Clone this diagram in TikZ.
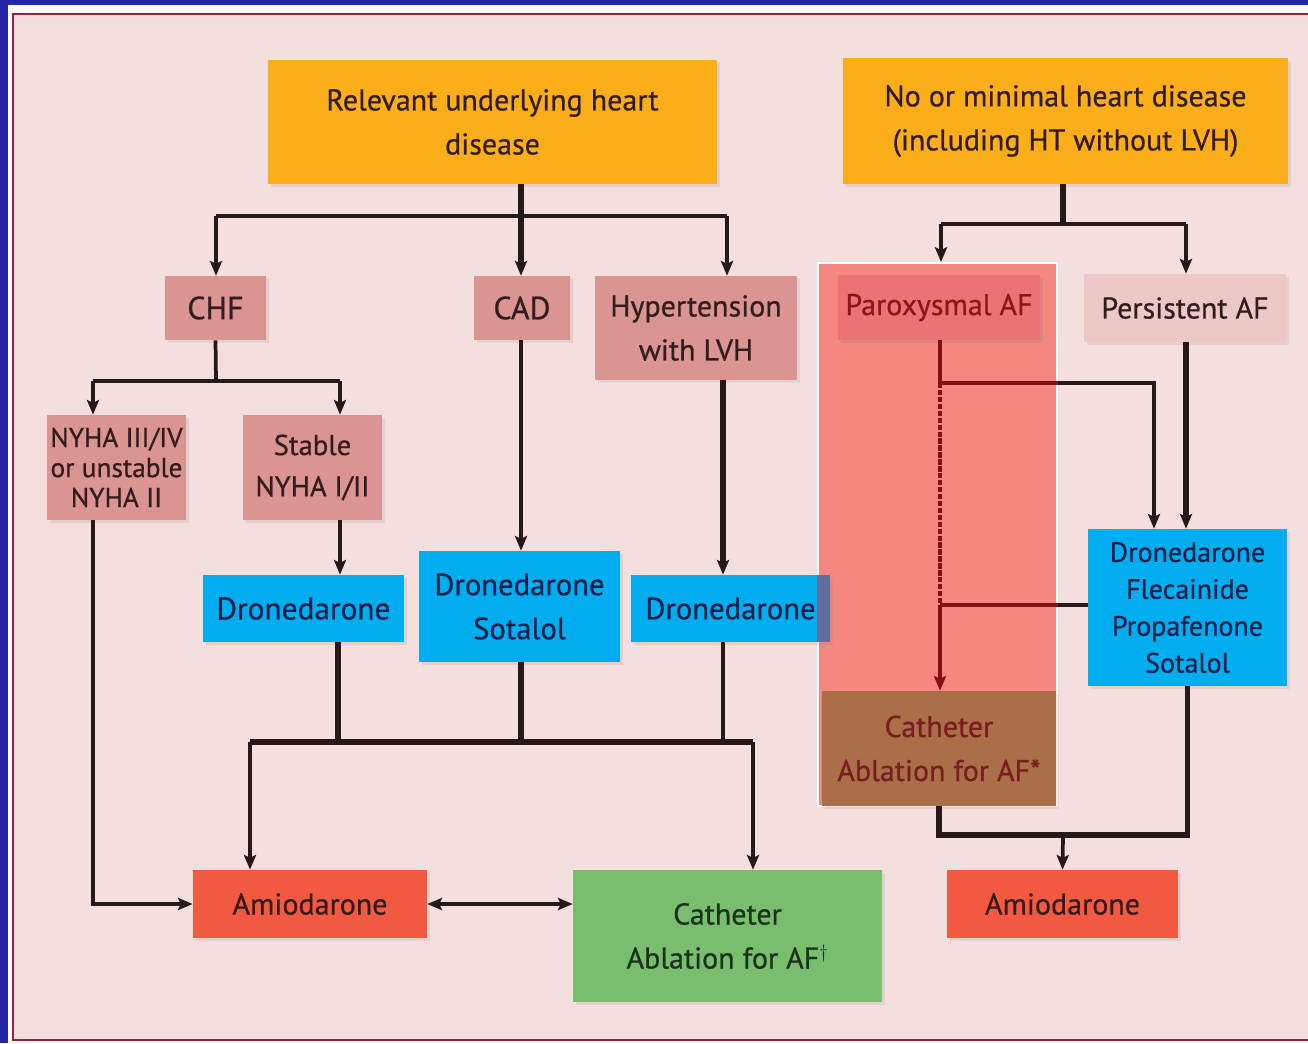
\documentclass[tikz,border=0pt]{standalone}
\usepackage{fontspec}
\setmainfont{PT Sans}[FakeBold=0.6]
\usetikzlibrary{arrows.meta,calc,shadows}
\definecolor{frameblue}{RGB}{38,38,168}
\definecolor{panel}{RGB}{245,223,222}
\definecolor{panelborder}{RGB}{150,35,60}
\definecolor{orangebox}{RGB}{251,174,26}
\definecolor{rosebox}{RGB}{218,148,146}
\definecolor{lightrose}{RGB}{236,200,198}
\definecolor{bluebox}{RGB}{0,173,238}
\definecolor{bluestrip}{RGB}{95,110,160}
\definecolor{amio}{RGB}{241,90,64}
\definecolor{greenbox}{RGB}{121,190,110}
\definecolor{hilite}{RGB}{245,134,128}
\definecolor{parbox}{RGB}{236,115,115}
\definecolor{brownbox}{RGB}{170,110,72}
\definecolor{txt}{RGB}{50,28,28}
\definecolor{bluetxt}{RGB}{20,30,75}
\definecolor{greentxt}{RGB}{25,50,25}
\definecolor{redtxt}{RGB}{140,20,30}
\definecolor{browntxt}{RGB}{120,30,30}
\definecolor{linec}{RGB}{40,25,25}
\definecolor{redline}{RGB}{130,15,20}
\tikzset{
  box/.style={inner sep=0pt, align=center, text=txt,
    font=\fontsize{22.5}{33}\selectfont,
    drop shadow={opacity=0.15, shadow xshift=2pt, shadow yshift=-2pt}},
  conn/.style={draw=linec, line width=2.8pt,
    -{Stealth[length=11pt,width=9pt,inset=2pt]}},
  dconn/.style={draw=linec, line width=2.8pt,
    {Stealth[length=11pt,width=9pt,inset=2pt]}-{Stealth[length=11pt,width=9pt,inset=2pt]}},
  bar/.style={draw=linec, line width=2.8pt},
  thickbar/.style={draw=linec, line width=4pt},
  thickconn/.style={conn, line width=4pt}
}
\begin{document}
\begin{tikzpicture}[x=0.75pt,y=-0.75pt]
\clip (0,0) rectangle (1308,1043);
\useasboundingbox (0,0) rectangle (1308,1043);
% frame
\fill[frameblue] (0,0) rectangle (1308,1043);
\fill[white] (8,5) rectangle (1320,1050);
\filldraw[fill=panel, draw=panelborder, line width=1.8pt] (13,14) rectangle (1330,1040);

% highlight region
\node[draw=white, fill=hilite, line width=1.5pt, inner sep=0pt, minimum width=179.25pt, minimum height=407.25pt] (parhl) at (937.5,534.5) {};

% top boxes
\node[box, minimum width=336.75pt, minimum height=93pt, fill=orangebox] (b1) at (492.5,122) {Relevant underlying heart\\disease};
\node[box, minimum width=333.75pt, minimum height=94.5pt, fill=orangebox] (b2) at (1065.5,121) {No or minimal heart disease\\(including HT without LVH)};

% second row
\node[box, minimum width=75.75pt, minimum height=48pt, fill=rosebox, font=\fontsize{24}{33}\selectfont] (chf) at (215.5,308) {CHF};
\node[box, minimum width=72pt, minimum height=48pt, fill=rosebox, font=\fontsize{24}{33}\selectfont] (cad) at (522,308) {CAD};
\node[box, minimum width=151.5pt, minimum height=78pt, fill=rosebox] (hyp) at (696,328) {Hypertension\\with LVH};
\node[box, minimum width=151.5pt, minimum height=48.75pt, fill=parbox, text=redtxt, drop shadow={opacity=0.08}] (par) at (939,307.5) {Paroxysmal AF};
\node[box, minimum width=151.5pt, minimum height=51pt, fill=lightrose] (per) at (1185,308) {Persistent AF};

% NYHA
\node[box, minimum width=104.25pt, minimum height=78.75pt, fill=rosebox, font=\fontsize{20.5}{22.5}\selectfont] (nyha3) at (116.5,467.5) {NYHA III/IV\\or unstable\\NYHA II};
\node[box, minimum width=104.25pt, minimum height=78.75pt, fill=rosebox, font=\fontsize{21.5}{31}\selectfont] (nyha12) at (312.5,467.5) {Stable\\NYHA I/II};

% drugs
\node[box, minimum width=150.75pt, minimum height=50.25pt, fill=bluebox, text=bluetxt, font=\fontsize{23.5}{33}\selectfont] (dr1) at (303.5,608.5) {Dronedarone};
\node[box, minimum width=150.75pt, minimum height=83.25pt, fill=bluebox, text=bluetxt, font=\fontsize{23}{33}\selectfont] (dr2) at (519.5,606.5) {Dronedarone\\Sotalol};
\node[box, minimum width=149.25pt, minimum height=50.25pt, fill=bluebox, text=bluetxt, font=\fontsize{23}{33}\selectfont] (dr3) at (730.5,608.5) {Dronedarone};
\fill[bluestrip] (817,575) rectangle (830,642);
\node[box, minimum width=149.25pt, minimum height=117.75pt, fill=bluebox, text=bluetxt, font=\fontsize{21}{27.7}\selectfont] (dr4) at (1187.5,607.5) {Dronedarone\\Flecainide\\Propafenone\\Sotalol};
\node[box, minimum width=175.5pt, minimum height=86.25pt, fill=brownbox, text=browntxt, drop shadow={opacity=0}] (cab) at (939,748.5) {Catheter\\Ablation for AF*};

% bottom
\node[box, minimum width=175.5pt, minimum height=51pt, fill=amio] (am1) at (310,904) {Amiodarone};
\node[box, minimum width=231.75pt, minimum height=99pt, fill=greenbox, text=greentxt] (cag) at (727.5,936) {Catheter\\Ablation for AF$^{\dagger}$};
\node[box, minimum width=173.25pt, minimum height=51pt, fill=amio] (am2) at (1062.5,904) {Amiodarone};

% ---- connectors left
\coordinate (j1) at (521,216);
\coordinate (jL) at (216,216);
\coordinate (jR) at (727,216);
\draw[thickbar] (b1.south -| j1) -- (j1);
\draw[bar] (jL) -- (jR);
\draw[conn] (jL) -- (jL |- chf.north);
\draw[thickconn] (j1) -- (j1 |- cad.north);
\draw[conn] (jR) -- (jR |- hyp.north);

\coordinate (j3) at (216,381);
\coordinate (n3x) at (93,381);
\coordinate (n12x) at (340,381);
\draw[bar] (chf.south) -- (j3);
\draw[bar] (n3x) -- (n12x);
\draw[conn] (n3x) -- (n3x |- nyha3.north);
\draw[conn] (n12x) -- (n12x |- nyha12.north);

\draw[conn] (cad.south -| j1) -- (j1 |- dr2.north);
\coordinate (hx) at (723,380);
\draw[thickconn] (hx) -- (hx |- dr3.north);
\draw[conn] (n12x |- nyha12.south) -- (n12x |- dr1.north);
\draw[conn] (n3x |- nyha3.south) |- (am1.west);

\coordinate (hL) at (250,742);
\coordinate (hR) at (753,742);
\coordinate (d1x) at (338,742);
\draw[thickbar] (d1x |- dr1.south) -- (d1x);
\draw[thickbar] (dr2.south -| j1) -- (j1 |- hL);
\draw[bar] (hx |- dr3.south) -- (hx |- hL);
\draw[thickbar] (hL) -- (hR);
\draw[conn] (hL) -- (hL |- am1.north);
\draw[conn] (hR) -- (hR |- cag.north);
\draw[dconn] (am1.east) -- (cag.west |- am1.east);

% ---- connectors right
\coordinate (j2) at (1063,224);
\coordinate (j2L) at (941,224);
\coordinate (j2R) at (1186,224);
\draw[thickbar] (b2.south -| j2) -- (j2);
\draw[bar] (j2L) -- (j2R);
\draw[conn] (j2L) -- (j2L |- parhl.north);
\draw[conn] (j2R) -- (j2R |- per.north);
\draw[thickconn] (j2R |- per.south) -- (j2R |- dr4.north);

\coordinate (pj1) at (940,383);
\coordinate (pj2) at (940,605);
\coordinate (d4x) at (1154,383);
\draw[conn] (pj1) -- (d4x) -- (d4x |- dr4.north);
\draw[draw=redline, line width=2.8pt] (par.south -| pj1) -- (pj1) -- (pj1 -| parhl.east);
\draw[draw=redline, line width=2.8pt, dash pattern=on 4pt off 1.2pt] (pj1) -- (pj2);
\draw[bar, line width=3.2pt] (dr4.west |- pj2) -- (pj2);
\draw[draw=redline, line width=3.2pt] (pj2) -- (pj2 -| parhl.east);
\draw[conn, draw=redline, fill=redline] (pj2) -- (pj2 |- cab.north);

\coordinate (j5) at (1063,835);
\draw[thickbar] (cab.south) |- (j5);
\draw[thickbar] (dr4.south) |- (j5);
\draw[conn] (j5) -- (am2.north);
\end{tikzpicture}
\end{document}
